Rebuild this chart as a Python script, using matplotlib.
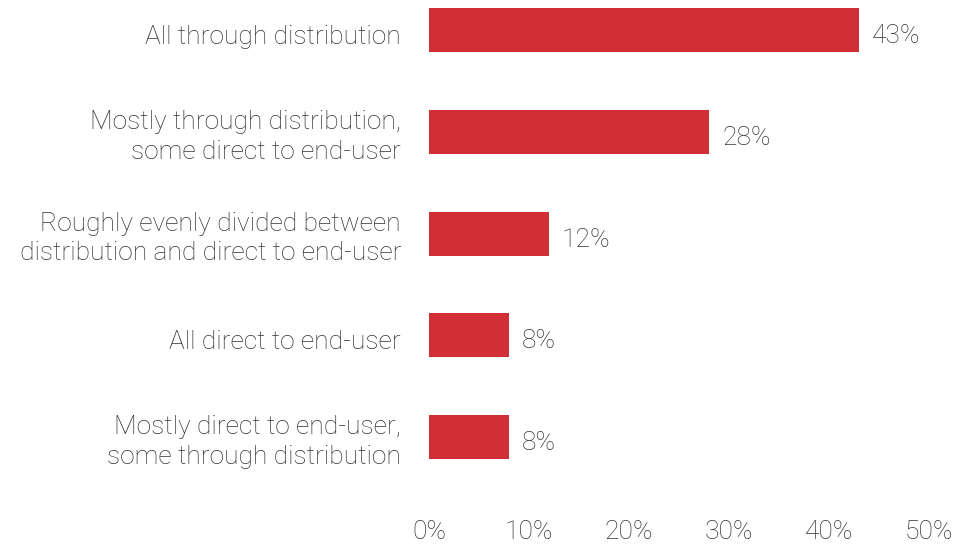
import matplotlib
matplotlib.use("Agg")
import matplotlib.pyplot as plt
from matplotlib.transforms import offset_copy

# survey answers, top to bottom
categories = [
    "All through distribution",
    "Mostly through distribution,\nsome direct to end-user",
    "Roughly evenly divided between\ndistribution and direct to end-user",
    "All direct to end-user",
    "Mostly direct to end-user,\nsome through distribution",
]
shares = [43, 28, 12, 8, 8]
tick_values = [0, 10, 20, 30, 40, 50]

bar_color = "#D22E36"
text_color = "#333333"
fsize = 19
plt.rcParams["font.family"] = ["Roboto", "DejaVu Sans"]
plt.rcParams["font.weight"] = "light"

fig = plt.figure(figsize=(9.74, 5.44), dpi=100)
ax = fig.add_axes([429 / 974, 1 - 505 / 544, 500 / 974, 505 / 544])

y = list(range(len(categories)))
ax.barh(y, shares, height=0.432, color=bar_color)

for yi, v in zip(y, shares):
    ax.annotate(f"{v}%", (v, yi), xytext=(13, -6), textcoords="offset pixels",
                va="center", ha="left", fontsize=fsize, color=text_color)

# category labels, drawn as text so they can sit a little below bar centre
for yi, cat in zip(y, categories):
    dy = -5 if "\n" in cat else -7
    tr = offset_copy(ax.get_yaxis_transform(), fig=fig, x=-28, y=dy, units="dots")
    ax.text(0, yi, cat, transform=tr, ha="right", va="center", ma="right",
            fontsize=fsize, color=text_color, linespacing=1.3)

ax.set_xlim(0, 50)
ax.set_ylim(4.668, -0.295)
ax.set_xticks(tick_values)
ax.set_xticklabels([f"{t}%" for t in tick_values], fontsize=fsize, color=text_color)
ax.set_yticks([])
ax.tick_params(axis="x", length=0, pad=11)
for s in ax.spines.values():
    s.set_visible(False)

fig.savefig("out.png", dpi=100)
